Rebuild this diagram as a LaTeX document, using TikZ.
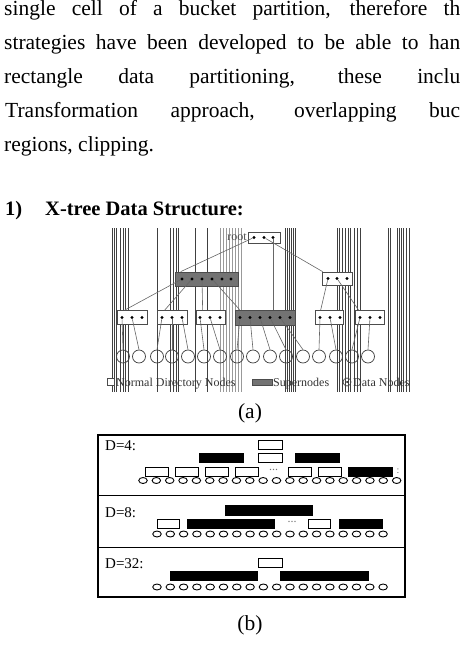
\documentclass[tikz,border=0pt]{standalone}
\usepackage{fontspec}
\setmainfont{Liberation Serif}
\usetikzlibrary{positioning,calc,shapes.geometric}

\begin{document}
\begin{tikzpicture}[x=1pt,y=-1pt,
  body/.style={anchor=base west,inner sep=0pt,font=\fontsize{21.5}{26}\selectfont},
  capt/.style={inner sep=0pt,font=\fontsize{21.5}{26}\selectfont},
  stripe/.style={black!75,line width=0.7pt},
  nbox/.style={draw=black!70,fill=white,line width=0.7pt,minimum height=12pt,inner sep=0pt},
  sbox/.style={draw=black!70,fill=black!55,line width=0.7pt,minimum height=14pt,inner sep=0pt},
  dot/.style={circle,fill=black,inner sep=0pt,minimum size=3.4pt},
  dnode/.style={circle,draw=black!75,line width=0.7pt,minimum size=13pt,inner sep=0pt},
  lnk/.style={black!60,line width=0.6pt},
  lgd/.style={anchor=base west,inner sep=0pt,font=\fontsize{12}{14}\selectfont,text=black!80},
  wb/.style={draw,line width=0.9pt,fill=white,minimum height=9.5pt,inner sep=0pt},
  bb/.style={fill=black,minimum height=10pt,inner sep=0pt},
  leaf/.style={ellipse,draw,line width=0.9pt,minimum width=8.5pt,minimum height=6pt,inner sep=0pt},
  dlab/.style={anchor=base west,inner sep=0pt,font=\fontsize{15}{18}\selectfont}
]
  \useasboundingbox (0,0) rectangle (463,647);

  % running text
  \node[body] (l1) at (4,16) {\makebox[456pt][s]{single cell of a bucket partition, therefore th}};
  \node[body] (l2) at (4,50) {\makebox[456pt][s]{strategies have been developed to be able to han}};
  \node[body] (l3) at (4,84) {\makebox[456pt][s]{rectangle data partitioning, these inclu}};
  \node[body] (l4) at (5,118) {\makebox[455pt][s]{Transformation approach, overlapping buc}};
  \node[body] (l5) at (4,152) {regions, clipping.};
  \node[body,font=\fontsize{20.5}{24}\selectfont\bfseries] (hnum) at (5,215) {1)};
  \node[body,font=\fontsize{20.5}{24}\selectfont\bfseries] (head) at (45,215) {X-tree Data Structure:};

  % (a) scan stripes
  \foreach \x in {112,114,116,120,123,125,128,157,170,173,176,178,195,207,
                  285,287,289,291,293,295,337,339,342,345,348,350,354,357,360,
                  388,390,397,399,401,403,406,409}
    \draw[stripe] (\x,228) -- (\x,392);
  \foreach \x in {220,223,...,243}
    \draw[stripe,black!40] (\x,228) -- (\x,392);

  % (a) tree
  \node[nbox,minimum width=32pt,minimum height=11pt] (root) at (264,237.5) {};
  \node[anchor=east,inner sep=0pt,font=\fontsize{12}{14}\selectfont,text=black!70] (rootlab) at (247,237) {root};
  \node[sbox,minimum width=63pt] (s1) at (206.5,279) {};
  \node[nbox,minimum width=30pt,minimum height=13pt] (r1) at (337,278.5) {};
  \node[nbox,minimum width=30pt,minimum height=14pt] (b1) at (132,317.5) {};
  \node[nbox,minimum width=30pt,minimum height=14pt] (b2) at (172,317.5) {};
  \node[nbox,minimum width=29pt,minimum height=14pt] (b3) at (210.5,317.5) {};
  \node[sbox,minimum width=60pt,minimum height=15pt] (s2) at (265,317.5) {};
  \node[nbox,minimum width=28pt,minimum height=14pt] (b5) at (329,317.5) {};
  \node[nbox,minimum width=29pt,minimum height=14pt] (b6) at (369.5,317.5) {};

  \foreach \x [count=\i] in {254,264,273} \node[dot] (root-\i) at (\x,237.5) {};
  \foreach \x [count=\i] in {182,192,202,212,222,231} \node[dot] (s1-\i) at (\x,279) {};
  \foreach \x [count=\i] in {328,337,347} \node[dot] (r1-\i) at (\x,278.5) {};
  \foreach \x [count=\i] in {122,132,142} \node[dot] (b1-\i) at (\x,317.5) {};
  \foreach \x [count=\i] in {162,172,182} \node[dot] (b2-\i) at (\x,317.5) {};
  \foreach \x [count=\i] in {200,210,220} \node[dot] (b3-\i) at (\x,317.5) {};
  \foreach \x [count=\i] in {240,250,260,270,280,290} \node[dot] (s2-\i) at (\x,317.5) {};
  \foreach \x [count=\i] in {320,330,340} \node[dot] (b5-\i) at (\x,317.5) {};
  \foreach \x [count=\i] in {360,370,380} \node[dot] (b6-\i) at (\x,317.5) {};

  \foreach \x [count=\i] in {123,139,157,172,188,204,220,237,253,270,286,303,319,336,352,368}
    \node[dnode] (c\i) at (\x,356.5) {};

  \draw[lnk] (root-1) -- ($(s1.north west)+(6,0)$);
  \draw[lnk] (root-2) -- ($(r1.north west)+(1,0)$);
  \draw[lnk] (root-3) -- (root-3 |- s2.north);
  \draw[lnk] (s1-1) -- ($(b1.north west)+(8,0)$);
  \draw[lnk] (s1-2) -- ($(b2.north west)+(8,0)$);
  \draw[lnk] (s1-3) -- ($(b3.north west)+(7,0)$);
  \draw[lnk] (s1-4) -- ($(s2.north west)+(5,0)$);
  \draw[lnk] (r1-1) -- ($(b5.north west)+(6,0)$);
  \draw[lnk] (r1-2) -- ($(b6.north west)+(4,0)$);
  \foreach \p/\c in {b1-1/c1,b1-2/c2,b2-1/c3,b2-2/c4,b2-3/c5,b3-1/c6,b3-2/c7,
                     s2-1/c8,s2-2/c9,s2-3/c10,s2-4/c11,s2-5/c12,
                     b5-1/c13,b5-2/c14,b6-1/c15,b6-2/c16}
    \draw[lnk] (\p) -- (\c.north);

  % (a) legend
  \node[nbox,minimum width=7pt,minimum height=7pt] (k1) at (111,382) {};
  \node[lgd] (k1t) at (116,386) {Normal Directory Nodes};
  \node[sbox,minimum width=20pt,minimum height=6pt] (k2) at (262,382) {};
  \node[lgd] (k2t) at (273,386) {Supernodes};
  \node[dnode,minimum size=8pt] (k3) at (347,382) {};
  \node[dot,minimum size=2pt] (k3c) at (347,382) {};
  \node[lgd] (k3t) at (353,386) {Data Nodes};

  \node[capt] (capa) at (250,413) {(a)};

  % (b) frame
  \draw[line width=1.1pt] (98,435) rectangle (405,597);
  \draw[line width=0.9pt] (98,495) -- (405,495);
  \draw[line width=0.9pt] (98,547) -- (405,547);

  % D=4
  \node[dlab] (d4) at (105,450) {D=4:};
  \node[wb,minimum width=24pt,minimum height=9pt] (t4a) at (270,444.5) {};
  \node[wb,minimum width=24pt] (t4b) at (270,458) {};
  \node[bb,minimum width=45pt] (t4l) at (221.5,458) {};
  \node[bb,minimum width=45pt] (t4r) at (317.5,458) {};
  \foreach \x [count=\i] in {156.5,186.5,216.5,246.5,300,330}
    \node[wb,minimum width=23pt] (w4-\i) at (\x,472) {};
  \node[inner sep=0pt,font=\fontsize{12}{12}\selectfont,text=black!55] (g4) at (273.5,470) {...};
  \node[bb,minimum width=45pt] (k4) at (370.5,472) {};
  \node[inner sep=0pt,font=\fontsize{10}{10}\selectfont,text=black!60] (m4) at (398,471) {:};
  \foreach \i in {0,...,19}
    \node[leaf] (p4-\i) at ({143+\i*13.35},480.5) {};

  % D=8
  \node[dlab] (d8) at (105,517) {D=8:};
  \node[bb,minimum width=88pt,minimum height=11pt] (t8) at (269,510.5) {};
  \node[wb,minimum width=22pt,minimum height=9pt] (w8a) at (168,523.5) {};
  \node[bb,minimum width=88pt] (k8a) at (231,523.5) {};
  \node[inner sep=0pt,font=\fontsize{12}{12}\selectfont,text=black!55] (g8) at (292,521.5) {...};
  \node[wb,minimum width=22pt,minimum height=9pt] (w8b) at (319,523.5) {};
  \node[bb,minimum width=44pt] (k8b) at (361,523.5) {};
  \foreach \i in {0,...,17}
    \node[leaf] (p8-\i) at ({157+\i*13.3},534) {};

  % D=32
  \node[dlab] (d32) at (105,568) {D=32:};
  \node[wb,minimum width=24pt,minimum height=9pt] (t32) at (270,562.5) {};
  \node[bb,minimum width=88pt] (k32a) at (214,576) {};
  \node[bb,minimum width=89pt] (k32b) at (324.5,576) {};
  \foreach \i in {0,...,17}
    \node[leaf] (p32-\i) at ({157+\i*13.3},587) {};

  \node[capt] (capb) at (250,625) {(b)};
\end{tikzpicture}
\end{document}
